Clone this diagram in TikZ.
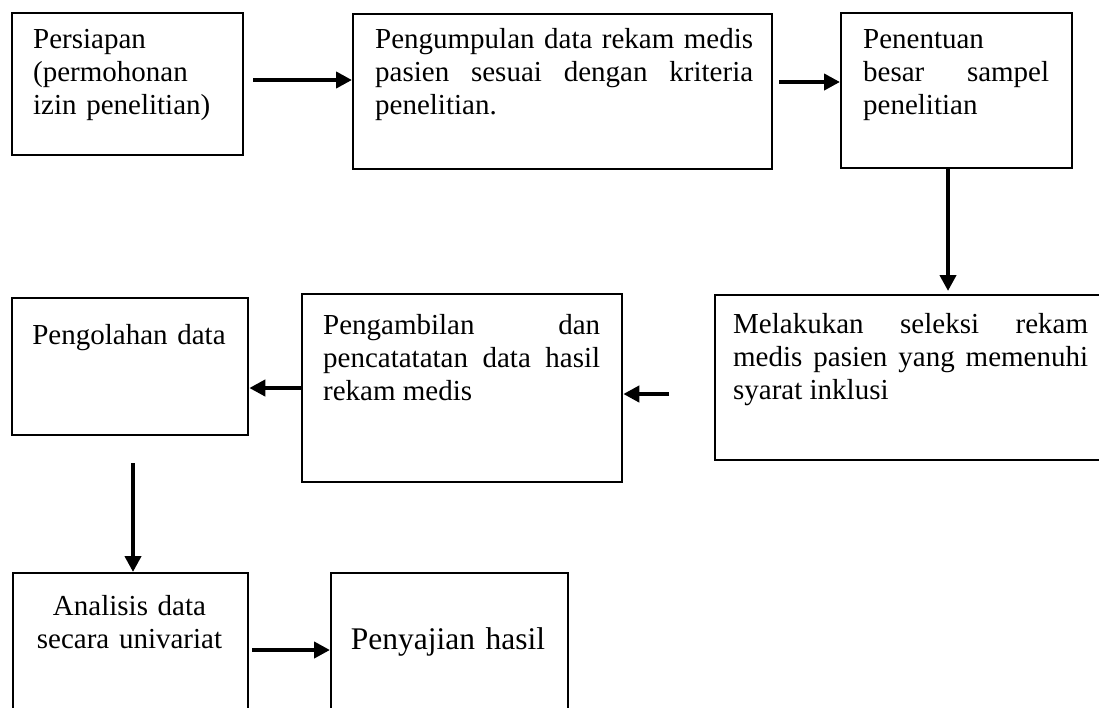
\documentclass[tikz,border=0pt]{standalone}
\usepackage{fontspec}
\setmainfont{Liberation Serif}
\usetikzlibrary{arrows.meta}
\tolerance=10000
\hyphenpenalty=10000

\tikzset{every picture/.style={line width=2.3pt}}
\tikzset{
  kotak/.style={draw, anchor=north west, inner sep=0pt},
  isi/.style={anchor=base west, inner sep=0pt, text width=#1, align=justify,
    font=\fontsize{29}{33.3}\selectfont},
  tengah/.style={anchor=base, inner sep=0pt, text width=230, align=center,
    font=\fontsize{29}{33.3}\selectfont},
  panah/.style={line width=4.5pt, -{Triangle[length=16pt,width=16pt]}},
}

\begin{document}
\begin{tikzpicture}[x=1pt,y=1pt,yscale=-1,xscale=1]
    \useasboundingbox (0,0) rectangle (1099,707);
    \clip (0,0) rectangle (1099,707);
    %Shape: Rectangle
    \node[kotak, minimum width=231, minimum height=142] (persiapan) at (11,12) {};
    \node[kotak, minimum width=419, minimum height=155] (pengumpulan) at (352,13) {};
    \node[kotak, minimum width=231, minimum height=155] (penentuan) at (840,12) {};
    \node[kotak, minimum width=392, minimum height=165] (seleksi) at (714,294) {};
    \node[kotak, minimum width=320, minimum height=188] (pengambilan) at (301,293) {};
    \node[kotak, minimum width=236, minimum height=137] (pengolahan) at (11,297) {};
    \node[kotak, minimum width=235, minimum height=150] (analisis) at (12,572) {};
    \node[kotak, minimum width=237, minimum height=150] (penyajian) at (330,572) {};
    % Text Node
    \node[isi=200, align=left] (t-persiapan) at (32,48) {Persiapan\\(permohonan\\izin penelitian)};
    % Text Node
    \node[isi=378] (t-pengumpulan) at (374,48) {Pengumpulan data rekam medis\linebreak pasien sesuai dengan kriteria\linebreak penelitian.};
    % Text Node
    \node[isi=186] (t-penentuan) at (862,48) {Penentuan\linebreak besar sampel\linebreak penelitian};
    % Text Node
    \node[isi=355] (t-seleksi) at (732,333) {Melakukan seleksi rekam\linebreak medis pasien yang memenuhi\linebreak syarat inklusi};
    % Text Node
    \node[isi=277] (t-pengambilan) at (322,334) {Pengambilan dan\linebreak pencatatatan data hasil\linebreak rekam medis};
    % Text Node
    \node[tengah] (t-pengolahan) at (129,344) {Pengolahan data};
    % Text Node
    \node[tengah] (t-analisis) at (129.5,615) {Analisis data\\secara univariat};
    % Text Node
    \node[tengah, font=\fontsize{31.5}{36}\selectfont] (t-penyajian) at (448,649) {Penyajian hasil};
    %Straight Lines
    \coordinate (a1) at (253,80);
    \draw[panah] (a1) -- (a1 -| pengumpulan.west);
    \coordinate (a2) at (779,82);
    \draw[panah] (a2) -- (a2 -| penentuan.west);
    \coordinate (a3) at (948,0);
    \draw[panah, shorten >=3pt] (penentuan.south -| a3) -- (seleksi.north -| a3);
    \coordinate (a4) at (669,394);
    \draw[panah] (a4) -- (a4 -| pengambilan.east);
    \coordinate (a5) at (301,388);
    \draw[panah] (a5 -| pengambilan.west) -- (a5 -| pengolahan.east);
    \coordinate (a6) at (133,463);
    \draw[panah] (a6) -- (a6 |- analisis.north);
    \coordinate (a7) at (252,650);
    \draw[panah] (a7) -- (a7 -| penyajian.west);
\end{tikzpicture}
\end{document}
